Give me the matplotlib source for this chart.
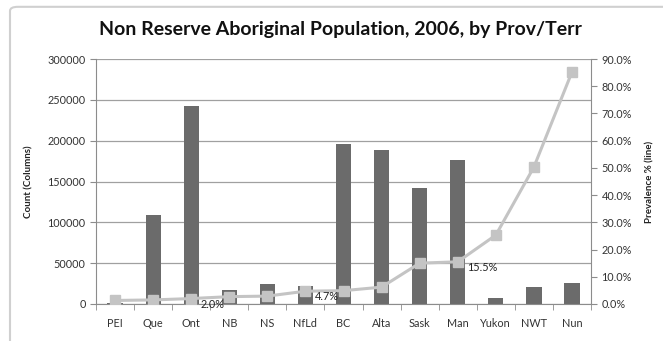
import matplotlib.pyplot as plt
from matplotlib.patches import FancyBboxPatch
from matplotlib.ticker import FuncFormatter

# Provinces / territories
regions = ['PEI', 'Que', 'Ont', 'NB', 'NS', 'NfLd', 'BC', 'Alta', 'Sask', 'Man', 'Yukon', 'NWT', 'Nun']
# Non reserve Aboriginal count (columns)
counts = [1500, 109000, 242000, 17000, 24000, 22000, 196000, 188500, 142000, 176000, 7300, 20800, 25500]
# Prevalence % (line)
prevalence = [1.3, 1.5, 2.0, 2.7, 2.9, 4.7, 4.9, 6.2, 15.0, 15.5, 25.3, 50.3, 85.2]
# points that carry a value label
labelled = {'Ont': '2.0%', 'NfLd': '4.7%', 'Man': '15.5%'}

plt.rcParams['font.family'] = ['Lato', 'DejaVu Sans']
grey_txt = '#333333'
axis_col = '#8c8c8c'

fig = plt.figure(figsize=(6.63, 3.41), dpi=100)
# chart frame
frame = FancyBboxPatch((10 / 663, -0.1), 1.2, 1.08, boxstyle='round,pad=0,rounding_size=0.012',
                       transform=fig.transFigure, facecolor='white', edgecolor='#d0d0d0', lw=1.5,
                       zorder=-10)
fig.patches.append(frame)

ax = fig.add_axes([96 / 663, 1 - 304 / 341, (591 - 96) / 663, (304 - 59) / 341])
ax.set_facecolor('none')
x = range(len(regions))
ax.bar(x, counts, width=0.4, color='#6b6b6b', zorder=2)
ax.set_ylim(0, 300000)
ax.set_xlim(-0.5, len(regions) - 0.5)
ax.set_yticks(range(0, 300001, 50000))
ax.yaxis.grid(True, color='#a0a0a0', lw=0.9, zorder=0)
ax.set_axisbelow(True)
ax.set_xticks(list(x))
ax.set_xticklabels(regions)
ax.set_xticks([i + 0.5 for i in range(-1, len(regions))], minor=True)
ax.tick_params(axis='x', which='major', length=0, pad=10, labelsize=7.8, labelcolor=grey_txt)
ax.tick_params(axis='x', which='minor', length=4, color=axis_col, direction='out')
ax.tick_params(axis='y', length=4, color=axis_col, labelsize=7.8, labelcolor=grey_txt)
for side in ['top', 'right']:
    ax.spines[side].set_visible(False)
for side in ['left', 'bottom']:
    ax.spines[side].set_color(axis_col)
ax.set_ylabel('Count (Columns)', fontsize=7, fontweight='bold', color='#222222', labelpad=10)

ax2 = ax.twinx()
ax2.plot(x, prevalence, color='#c4c4c4', lw=2.2, marker='s', markersize=7.5, zorder=3)
ax2.set_ylim(0, 90)
ax2.set_yticks(range(0, 91, 10))
ax2.yaxis.set_major_formatter(FuncFormatter(lambda v, p: f'{v:.1f}%'))
ax2.tick_params(axis='y', length=4, color=axis_col, labelsize=7.8, labelcolor=grey_txt)
for side in ['top', 'left', 'bottom']:
    ax2.spines[side].set_visible(False)
ax2.spines['right'].set_color(axis_col)
ax2.set_ylabel('Prevalence % (line)', fontsize=7, fontweight='bold', color='#222222', labelpad=10)

for name, txt in labelled.items():
    i = regions.index(name)
    ax2.annotate(txt, (i, prevalence[i]), xytext=(7, -4), textcoords='offset points',
                 fontsize=7.8, color='#222222', va='center', ha='left')

fig.text(340 / 663, 1 - 30 / 341, 'Non Reserve Aboriginal Population, 2006, by Prov/Terr',
         ha='center', va='center', fontsize=14, fontweight='bold', color='#111111')

fig.savefig('out.png', dpi=100)
